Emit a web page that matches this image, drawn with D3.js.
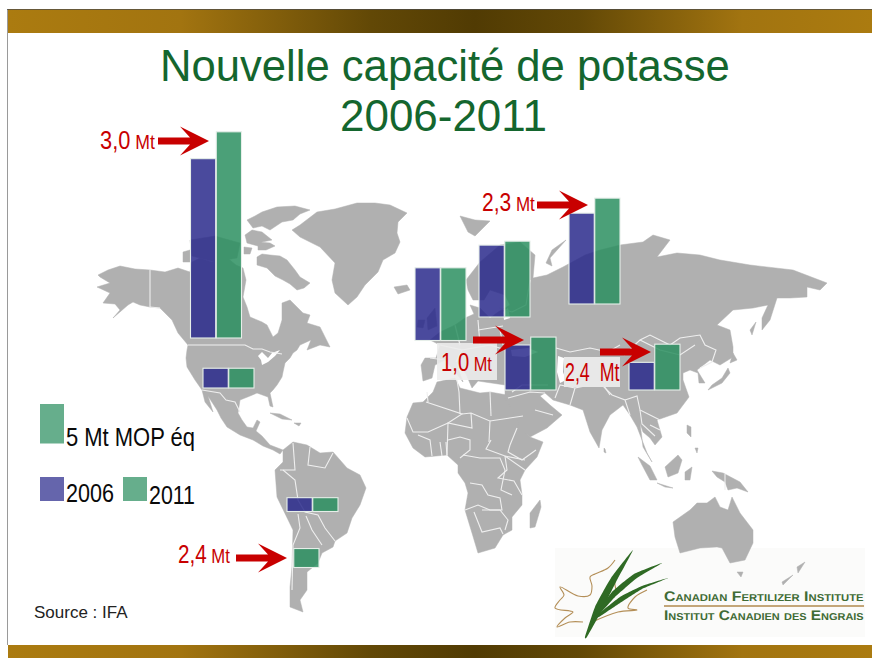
<!DOCTYPE html>
<html><head><meta charset="utf-8">
<script src="https://cdnjs.cloudflare.com/ajax/libs/d3/7.8.5/d3.min.js"></script>
<style>html,body{margin:0;padding:0;background:#fff;overflow:hidden}svg{display:block}
text{font-family:"Liberation Sans",Arial,sans-serif}</style>
</head><body><svg id="c" width="872" height="658"></svg>
<script>
const regions   = ["Canada","États-Unis","Europe de l'Ouest","Bélarus","Russie","Moyen-Orient","Chine","Brésil","Argentine"];
const years     = ["2006","2011"];
const values2006 = [22.7,2.5,9.2,9.1,11.5,5.7,3.5,1.75,0];
const values2011 = [26.1,2.5,9.2,9.6,13.4,6.7,5.8,1.75,2.4];
const legendScaleValue = 5;
const titleLines = ["Nouvelle capacité de potasse","2006-2011"];
const calloutLabels = [["3,0"," Mt"],["2,3"," Mt"],["1,0"," Mt"],["2,4","  Mt"],["2,4"," Mt"]];
// ---------- layout
const siteLeft = [190.5,203,415,479,569,505,629,287,268];
const siteBase = [338,388,340.5,317,304,390,390,511.5,567.5];
const calloutTail = [158,537,473,600,236], calloutTip = [209,588,524,651,287], calloutY = [141,205,340,352,558];
const labelX = [100,482,441,565,178], labelY = [149,211,371,381,563], labelW = [55,53,51,55,52];
// ---------- background map outlines
const landMasses = [
 // North America
 [[98,275],[108,270],[120,266],[135,269],[150,270],[165,272],[178,268],[190,272],[192,262],[200,258],[212,262],[225,256],[236,265],[243,268],[246,280],[243,297],[247,307],[250,317],[262,322],[267,325],[273,337],[278,333],[282,320],[282,303],[290,300],[303,313],[310,315],[307,323],[320,327],[323,333],[330,347],[320,345],[307,350],[311,340],[300,345],[297,350],[293,353],[290,358],[285,363],[283,372],[282,377],[277,385],[273,390],[270,393],[273,407],[270,406],[268,397],[257,393],[250,396],[240,400],[238,413],[242,420],[247,427],[253,428],[257,420],[260,422],[256,431],[262,436],[270,445],[283,450],[280,454],[273,450],[263,446],[253,440],[240,435],[227,427],[221,418],[217,410],[208,396],[213,412],[205,402],[202,390],[195,380],[187,367],[186,358],[187,350],[188,345],[178,333],[172,320],[160,308],[150,307],[140,305],[133,302],[128,305],[113,318],[120,310],[115,304],[103,303],[110,293],[97,287],[110,283],[100,277]],
 // Canadian Arctic
 [[257,257],[262,254],[270,255],[280,256],[287,260],[295,270],[300,277],[310,283],[304,288],[297,290],[290,284],[283,280],[275,276],[267,268],[257,265]],
 [[247,220],[255,216],[262,212],[277,207],[295,206],[310,210],[300,214],[293,220],[282,222],[270,230],[262,226],[253,228]],
 [[245,235],[252,230],[262,232],[272,240],[262,242],[258,246],[247,243]],
 [[183,252],[190,250],[190,262],[183,262]],
 [[190,240],[215,236],[240,243],[237,258],[215,262],[192,256]],
 [[258,242],[270,243],[275,246],[266,250],[258,250]],
 [[244,247],[252,248],[250,254],[244,254]],
 // Greenland
 [[292,230],[300,225],[317,212],[335,209],[357,203],[375,203],[390,205],[407,213],[398,222],[397,233],[400,242],[395,253],[383,260],[378,272],[365,285],[357,297],[348,305],[335,293],[332,280],[335,263],[320,247],[300,237]],
 [[394,287],[407,285],[410,290],[398,294]],
 // Caribbean
 [[270,413],[280,414],[292,420],[282,419]],[[294,423],[301,423],[299,426]],
 // South America
 [[283,450],[293,442],[307,445],[320,453],[333,452],[347,468],[360,475],[366,488],[360,505],[352,518],[347,533],[335,541],[333,547],[322,553],[318,563],[307,572],[307,590],[300,600],[303,612],[290,607],[290,587],[292,567],[293,530],[277,497],[275,470],[283,462]],
 // Africa
 [[407,417],[413,403],[423,402],[433,392],[437,382],[455,378],[460,388],[480,393],[490,392],[507,395],[515,413],[522,428],[530,437],[543,442],[537,457],[525,470],[520,480],[522,495],[522,505],[512,517],[512,530],[503,535],[495,548],[478,553],[472,533],[465,510],[468,493],[465,483],[458,473],[458,465],[447,455],[425,457],[413,448],[405,433]],
 [[540,500],[541,507],[535,527],[530,528],[530,513]],
 // Eurasia
 [[421,365],[425,358],[436,358],[440,345],[430,340],[440,332],[455,325],[465,318],[474,314],[470,305],[480,308],[490,318],[498,312],[510,305],[505,295],[490,290],[484,300],[473,300],[468,290],[466,280],[480,262],[500,245],[520,242],[535,255],[533,278],[547,275],[563,267],[585,255],[600,250],[620,245],[643,242],[653,235],[670,240],[657,257],[677,253],[700,255],[720,260],[750,265],[793,270],[827,283],[820,290],[807,287],[807,297],[790,298],[777,298],[770,320],[762,330],[762,318],[768,305],[753,308],[733,310],[717,325],[730,330],[733,347],[733,357],[720,365],[710,360],[697,370],[705,383],[699,383],[698,373],[690,370],[683,373],[683,380],[689,397],[677,413],[657,420],[662,437],[655,445],[650,438],[643,432],[640,423],[643,447],[652,462],[647,453],[637,427],[630,415],[623,405],[610,415],[602,430],[599,448],[590,432],[583,410],[570,405],[553,400],[545,393],[540,396],[550,405],[562,415],[547,428],[530,437],[522,430],[510,407],[505,398],[505,385],[478,381],[472,388],[466,374],[456,362],[463,382],[455,372],[445,360],[435,365],[432,378],[423,381]],
 [[427,318],[435,308],[437,326],[428,330]],
 [[418,320],[425,320],[423,328],[417,327]],
 [[460,216],[475,220],[490,221],[475,236],[468,232]],
 [[546,263],[552,250],[566,240],[550,258],[552,266]],
 [[733,353],[737,360],[730,363]],
 [[728,368],[730,373],[722,383],[708,390],[712,385],[722,378]],
 // SE Asia
 [[638,457],[650,466],[657,480],[650,480],[642,465]],
 [[678,455],[682,460],[678,473],[668,477],[665,467]],
 [[657,483],[673,488],[665,487]],
 [[685,472],[692,467],[690,480],[685,480]],
 [[687,425],[691,427],[691,437],[687,433]],
 [[695,448],[698,448],[697,453]],
 [[712,471],[723,473],[740,482],[748,492],[737,488],[728,490],[725,482],[717,477]],
 // Oceania
 [[673,522],[690,510],[697,503],[707,503],[715,497],[720,507],[728,510],[732,497],[740,513],[753,530],[753,543],[745,560],[730,563],[722,548],[717,547],[700,548],[680,553],[675,537]],
 [[737,572],[743,572],[741,577]],
 [[797,567],[805,562],[798,573]],
 [[793,575],[783,585],[782,582]],
 [[604,448],[605,449],[606,453],[604,452]],
 [[750,330],[756,322],[752,335]]
];
const waterBodies = [
 [[258,356],[262,352],[268,358],[272,353],[280,350],[275,356],[268,362],[262,365],[261,360]],
 [[558,356],[564,358],[563,372],[566,380],[560,383],[557,372]],
 [[511,350],[528,348],[538,352],[525,357],[512,356]],
 [[503,312],[508,308],[510,318],[504,320]]
];
const borders = [
 [[150,270],[150,307]],[[150,307],[160,308]],[[188,345],[245,345],[253,349],[262,349],[270,352],[282,354]],
 [[202,390],[220,393],[226,400],[235,402],[240,412]],
 [[426,402],[462,414],[448,423],[428,432],[413,432],[407,418]],[[462,414],[471,413],[490,421],[489,442]],
 [[471,413],[472,428],[448,423],[447,455]],[[490,421],[523,416]],[[490,392],[491,416]],[[491,440],[486,449],[505,456],[525,460]],
 [[505,456],[507,470],[498,478],[514,481],[522,495]],[[463,455],[480,458],[500,458],[505,470],[501,490],[512,495]],
 [[470,483],[482,485],[488,495],[500,498],[502,510],[490,510],[478,505],[465,510]],[[474,512],[482,532],[500,528],[503,534]],
 [[482,510],[500,510],[508,520],[505,530]],[[448,440],[460,437],[470,440],[470,450],[460,458]],[[418,435],[430,440],[432,456]],[[440,442],[442,456]],[[446,442],[447,456]],
 [[517,428],[510,445],[508,452],[522,460],[536,450]],[[525,470],[505,456]],[[428,402],[427,392]],[[457,380],[459,392],[460,414]],
 [[293,443],[295,470],[280,470]],[[310,447],[308,465],[325,468],[333,453]],[[283,470],[295,480],[298,500],[305,512],[318,515],[325,528],[335,541]],[[298,514],[300,528],[293,545],[292,590]],[[306,516],[312,530],[322,545]],
 [[570,405],[575,388],[590,385],[600,372],[595,360]],[[555,398],[560,385],[575,388]],[[508,398],[530,392],[545,393]],[[512,392],[522,385],[548,385]],[[535,410],[553,415]],
 [[599,382],[612,395],[625,400],[630,415]],[[625,400],[637,396],[640,410],[650,415],[660,420]],[[640,410],[642,424],[655,436]],[[650,425],[660,430]],
 [[610,395],[600,380]],[[624,355],[640,340],[650,335],[670,345],[680,338],[700,335],[705,345],[716,350],[712,362],[700,368]],[[640,340],[660,350],[680,355],[695,345]],
 [[556,348],[570,352],[590,348],[608,352],[620,345]],[[566,362],[585,368],[600,365]],
 [[440,345],[462,350],[456,362]],[[430,358],[445,360]],[[462,350],[490,345],[506,350]],[[478,320],[480,345]],[[455,325],[460,345]],[[478,330],[503,326]],[[499,308],[512,312],[526,305],[530,280]],[[500,330],[503,345]],
 [[725,474],[725,490]]
];
// ---------- logo drawing (decorative)
const logoBlades = [
 [[585,637],[595,607],[611,578],[633,550],[616,582],[602,610],[587,637]],
 [[593,618],[612,592],[634,574],[662,563],[637,578],[615,597],[596,618]],
 [[596,616],[620,597],[642,586],[668,578],[642,589],[620,603],[599,617]]
];
const logoMaple = [
 [[615,560],[608,568],[595,574],[590,577],[592,586],[590,595],[578,596],[560,587],[564,595],[560,600],[555,608],[570,611],[573,612],[565,618],[557,627],[570,622],[583,622]],
 [[647,590],[635,597],[628,608],[637,610],[618,612],[590,623]],
 [[623,567],[615,578],[616,590]]
];

const svg = d3.select("#c");
const W=872,H=658;
const px = d3.scaleIdentity();
const line = d3.line().x(d=>px(d[0])).y(d=>px(d[1]));
const blade = d3.line().x(d=>px(d[0])).y(d=>px(d[1])).curve(d3.curveCardinalClosed.tension(.6));
const open = d3.line().x(d=>px(d[0])).y(d=>px(d[1])).curve(d3.curveCatmullRom);
// squeeze a text horizontally to the width it has in the reference (narrowed type)
function fit(sel,xf,yf,wf){ sel.each(function(d,i){ const k=wf(d,i)/this.getBBox().width;
  d3.select(this).attr("transform",`translate(${xf(d,i)},${yf(d,i)}) scale(${k},1)`); }); }

const grad = svg.append("defs").append("linearGradient").attr("id","band");
[[0,"#ab7b10"],[0.2,"#a27410"],[0.42,"#624806"],[0.54,"#513b03"],[0.66,"#624806"],[0.85,"#a27410"],[1,"#ab7b10"]].forEach(s=>grad.append("stop").attr("offset",s[0]).attr("stop-color",s[1]));
svg.append("rect").attr("x",8).attr("y",9).attr("width",W-8).attr("height",24).attr("fill","url(#band)");
svg.append("rect").attr("x",8).attr("y",645).attr("width",W-8).attr("height",13).attr("fill","url(#band)");
svg.append("line").attr("x1",7.5).attr("x2",7.5).attr("y1",9).attr("y2",645).attr("stroke","#9a9a9a");
svg.append("line").attr("x1",7).attr("x2",W).attr("y1",9.5).attr("y2",9.5).attr("stroke","#4a4a4a").attr("stroke-opacity",.7);

svg.append("rect").attr("x",555).attr("y",548).attr("width",310).attr("height",89).attr("fill","#fbfbfa");

svg.append("g").selectAll("path").data(landMasses).join("path").attr("d",d=>line(d)+"Z").attr("fill","#b0b0b0").attr("stroke","#b0b0b0").attr("stroke-width",.5);
svg.append("g").selectAll("path").data(waterBodies).join("path").attr("d",d=>line(d)+"Z").attr("fill","#fff");
svg.append("g").selectAll("path").data(borders).join("path").attr("d",line).attr("fill","none").attr("stroke","#efefef").attr("stroke-width",1.1);

svg.append("rect").attr("x",437).attr("y",343).attr("width",60).attr("height",37).attr("fill","#ececec").attr("opacity",.9);
svg.append("rect").attr("x",564).attr("y",357).attr("width",56).attr("height",30).attr("fill","#e8e8e8");

const yH = d3.scaleLinear().domain([0,legendScaleValue]).range([0,39.5]);
const xYear = d3.scaleBand().domain(years).range([0,51]).paddingInner(0.02);
const series = [{year:"2006",vals:values2006,fill:"#2a2a8c"},{year:"2011",vals:values2011,fill:"#2b8f60"}];
series.forEach(s=>{
  svg.append("g").selectAll("rect").data(s.vals.map((v,i)=>({v,i})).filter(d=>d.v>0)).join("rect")
   .attr("x",d=>siteLeft[d.i]+xYear(s.year)).attr("width",xYear.bandwidth())
   .attr("y",d=>siteBase[d.i]-yH(d.v)).attr("height",d=>yH(d.v))
   .attr("fill",s.fill).attr("fill-opacity",.85).attr("stroke","#e6eee9").attr("stroke-width",1.1);
});

svg.append("g").selectAll("path").data(calloutTip).join("path").attr("fill","#c80000")
 .attr("d",(tip,i)=>{const t=calloutTail[i],y=calloutY[i];
   return line([[t,y-3.4],[tip-19,y-3.4],[tip-29,y-14.5],[tip,y],[tip-29,y+14.5],[tip-19,y+3.4],[t,y+3.4]])+"Z";});

const cl = svg.append("g").selectAll("text").data(calloutLabels).join("text").attr("fill","#c80000")
 .attr("font-size",26).style("white-space","pre");
cl.append("tspan").text(d=>d[0]);
cl.append("tspan").attr("font-size",(d,i)=>i===3?26:21).text(d=>d[1]);
fit(cl,(d,i)=>labelX[i],(d,i)=>labelY[i],(d,i)=>labelW[i]);

const tt = svg.append("g").selectAll("text").data(titleLines).join("text").attr("font-size",44).attr("fill","#14662e").text(d=>d);
fit(tt,(d,i)=>[160,340][i],(d,i)=>[81,131][i],(d,i)=>[570,207][i]);

const legendRects=[{x:40,y:404,w:24,h:yH(legendScaleValue),f:"#2b8f60"},{x:40,y:477,w:24,h:24,f:"#2a2a8c"},{x:123,y:477,w:24,h:24,f:"#2b8f60"}];
svg.append("g").selectAll("rect").data(legendRects).join("rect").attr("x",d=>d.x).attr("y",d=>d.y).attr("width",d=>d.w).attr("height",d=>d.h).attr("fill",d=>d.f).attr("fill-opacity",.72);
const legendTexts=[{t:legendScaleValue+" Mt MOP éq",x:66,y:446,w:129},{t:years[0],x:66,y:502,w:48},{t:years[1],x:149,y:504,w:46}];
const lt = svg.append("g").selectAll("text").data(legendTexts).join("text").attr("font-size",25).attr("fill","#0a0a0a").text(d=>d.t);
fit(lt,d=>d.x,d=>d.y,d=>d.w);

const src = svg.append("g").selectAll("text").data(["Source : IFA"]).join("text").attr("font-size",16).attr("fill","#222").text(d=>d);
fit(src,()=>34,()=>618,()=>94);

svg.append("g").selectAll("path").data(logoMaple).join("path").attr("d",open).attr("fill","none").attr("stroke","#b48f58").attr("stroke-width",1.1);
svg.append("g").selectAll("path").data(logoBlades).join("path").attr("d",blade).attr("fill","#2f6a24");
svg.append("line").attr("x1",664).attr("x2",864).attr("y1",606).attr("y2",606).attr("stroke","#b08a4e").attr("stroke-width",1.6);
const logoText=svg.append("g").selectAll("text").data(["Canadian Fertilizer Institute","Institut Canadien des Engrais"]).join("text")
 .attr("font-size",14).attr("font-weight","bold").style("font-variant","small-caps").style("text-rendering","geometricPrecision").attr("fill","#3f6b35").text(d=>d);
fit(logoText,()=>664,(d,i)=>[601,620][i],()=>200);
</script></body></html>
